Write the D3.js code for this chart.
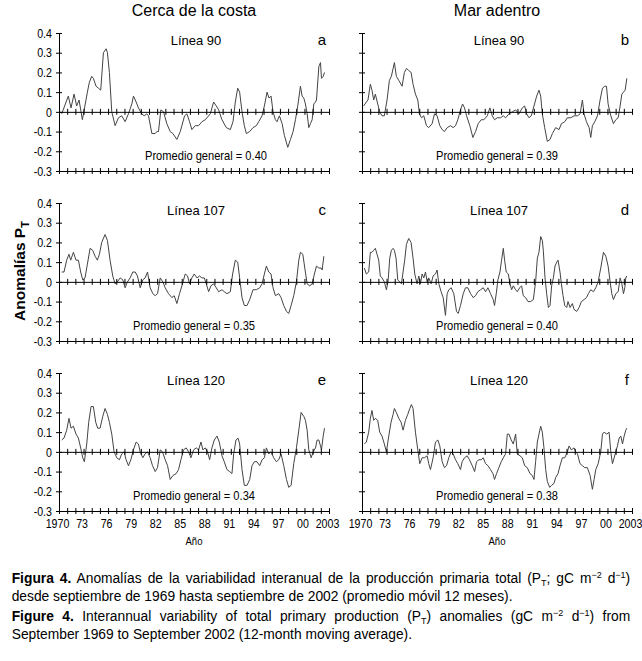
<!DOCTYPE html>
<html><head><meta charset="utf-8">
<script src="https://cdn.jsdelivr.net/npm/d3@7"></script>
<style>
body{margin:0;background:#fff;}
#wrap{position:relative;width:642px;height:661px;overflow:hidden;background:#fff;}
.cap{position:absolute;left:11.7px;width:618.5px;font-family:'Liberation Sans',Arial,sans-serif;font-size:13.8px;line-height:16px;color:#000;}
.j{text-align:justify;text-align-last:justify;}
.sup{font-size:9px;vertical-align:5px;line-height:0;}
.sub{font-size:9px;vertical-align:-3px;line-height:0;}
</style></head>
<body><div id="wrap"></div>
<script>
// ---------------- DATA ----------------
const columnTitles = ["Cerca de la costa", "Mar adentro"];
const yTicks = [-0.3, -0.2, -0.1, 0, 0.1, 0.2, 0.3, 0.4];
const yearTicks = d3.range(1970, 2004);
const yearLabels = [1970, 1973, 1976, 1979, 1982, 1985, 1988, 1991, 1994, 1997, 2000, 2003];

const linea90Costa = [[1970.33,-0.01],[1971.14,0.08],[1971.47,0.02],[1971.84,0.09],[1972.16,0.03],[1972.45,0.06],[1972.86,-0.04],[1973.47,0.10],[1973.71,0.15],[1974.00,0.18],[1974.20,0.17],[1974.53,0.13],[1974.82,0.12],[1975.10,0.11],[1975.43,0.30],[1975.76,0.32],[1975.92,0.30],[1976.16,0.20],[1976.45,0.00],[1976.86,-0.07],[1977.27,-0.03],[1977.67,-0.02],[1978.08,-0.05],[1978.49,-0.01],[1978.90,0.04],[1979.10,0.08],[1979.43,0.05],[1979.71,0.02],[1980.12,-0.01],[1980.41,-0.02],[1980.73,-0.01],[1980.94,-0.02],[1981.35,-0.11],[1981.76,-0.11],[1981.96,-0.10],[1982.16,-0.10],[1982.45,0.01],[1982.78,0.00],[1982.98,-0.03],[1983.18,-0.06],[1983.59,-0.10],[1983.92,-0.11],[1984.41,-0.14],[1984.82,-0.10],[1985.35,-0.02],[1985.63,-0.01],[1985.96,-0.05],[1986.24,-0.09],[1986.65,-0.07],[1987.06,-0.07],[1987.47,-0.05],[1987.88,-0.04],[1988.08,-0.03],[1988.49,-0.01],[1988.90,0.05],[1989.22,0.03],[1989.51,0.01],[1989.92,-0.04],[1990.45,-0.08],[1990.94,-0.09],[1991.27,-0.05],[1991.55,0.05],[1991.84,0.12],[1992.08,0.10],[1992.37,0.00],[1992.65,-0.07],[1992.90,-0.11],[1993.31,-0.10],[1993.71,-0.08],[1994.12,-0.07],[1994.41,-0.05],[1994.82,-0.02],[1995.10,0.03],[1995.43,0.10],[1995.67,0.07],[1995.92,0.08],[1996.16,0.00],[1996.45,-0.04],[1996.65,-0.05],[1996.94,-0.02],[1997.27,-0.06],[1997.55,-0.12],[1997.96,-0.18],[1998.29,-0.14],[1998.61,-0.10],[1998.90,-0.04],[1999.18,0.03],[1999.51,0.13],[1999.71,0.08],[1999.92,0.07],[2000.12,0.04],[2000.33,-0.01],[2000.53,-0.08],[2000.73,-0.06],[2000.94,-0.04],[2001.14,0.04],[2001.35,0.05],[2001.47,0.06],[2001.76,0.23],[2001.96,0.25],[2002.08,0.17],[2002.29,0.18],[2002.45,0.20]];

const linea90Mar = [[1970.20,0.03],[1970.53,0.05],[1970.73,0.06],[1971.02,0.14],[1971.22,0.11],[1971.43,0.06],[1971.63,0.09],[1971.92,0.04],[1972.16,0.00],[1972.45,-0.02],[1972.73,-0.02],[1973.06,0.06],[1973.35,0.16],[1973.59,0.18],[1973.96,0.25],[1974.20,0.18],[1974.49,0.16],[1974.90,0.13],[1975.18,0.20],[1975.43,0.22],[1975.71,0.21],[1976.00,0.20],[1976.24,0.14],[1976.53,0.09],[1976.82,0.06],[1977.02,-0.01],[1977.27,-0.03],[1977.55,-0.02],[1977.88,-0.07],[1978.16,-0.08],[1978.57,-0.06],[1978.86,-0.01],[1979.18,-0.02],[1979.51,-0.07],[1979.80,-0.09],[1980.08,-0.10],[1980.41,-0.08],[1980.82,-0.07],[1981.14,-0.08],[1981.43,-0.07],[1981.71,-0.04],[1982.04,0.01],[1982.29,0.04],[1982.53,0.02],[1982.78,-0.02],[1983.18,-0.07],[1983.55,-0.13],[1983.88,-0.10],[1984.20,-0.06],[1984.57,-0.04],[1984.90,-0.04],[1985.31,-0.02],[1985.63,0.02],[1985.92,-0.02],[1986.20,-0.04],[1986.53,-0.03],[1986.94,-0.03],[1987.27,-0.02],[1987.55,-0.03],[1987.96,-0.01],[1988.37,0.00],[1988.78,0.01],[1989.18,-0.01],[1989.59,0.02],[1989.88,0.03],[1990.12,-0.01],[1990.41,-0.03],[1990.69,-0.02],[1991.02,0.03],[1991.35,0.08],[1991.63,0.11],[1991.84,0.08],[1992.04,-0.01],[1992.33,-0.08],[1992.65,-0.15],[1992.98,-0.14],[1993.27,-0.11],[1993.67,-0.08],[1994.08,-0.09],[1994.37,-0.06],[1994.78,-0.05],[1995.10,-0.03],[1995.51,-0.03],[1995.92,-0.02],[1996.33,-0.02],[1996.65,-0.01],[1996.94,0.06],[1997.14,-0.01],[1997.43,-0.05],[1997.76,-0.08],[1997.96,-0.13],[1998.16,-0.07],[1998.45,-0.05],[1998.78,-0.02],[1999.10,0.06],[1999.39,0.12],[1999.67,0.13],[1999.88,0.13],[2000.08,0.04],[2000.41,-0.02],[2000.73,-0.06],[2001.02,-0.04],[2001.31,-0.03],[2001.55,0.03],[2001.76,0.09],[2001.96,0.10],[2002.16,0.11],[2002.37,0.17]];

const linea107Costa = [[1970.33,0.05],[1970.61,0.05],[1970.94,0.11],[1971.22,0.14],[1971.43,0.11],[1971.76,0.15],[1972.08,0.11],[1972.37,0.11],[1972.65,0.05],[1972.90,0.01],[1973.18,0.02],[1973.47,0.09],[1973.80,0.17],[1974.12,0.16],[1974.41,0.13],[1974.69,0.11],[1974.94,0.14],[1975.22,0.20],[1975.63,0.24],[1975.92,0.21],[1976.24,0.11],[1976.57,0.03],[1976.86,-0.01],[1977.14,0.00],[1977.47,0.02],[1977.80,0.01],[1978.08,-0.03],[1978.37,0.00],[1978.69,0.02],[1979.02,0.05],[1979.31,0.05],[1979.59,0.03],[1979.92,-0.03],[1980.24,0.01],[1980.53,0.02],[1980.82,0.05],[1981.14,-0.03],[1981.47,-0.06],[1981.76,-0.07],[1982.04,-0.06],[1982.37,0.02],[1982.69,0.00],[1982.98,-0.03],[1983.39,-0.06],[1983.80,-0.08],[1984.08,-0.07],[1984.41,-0.11],[1984.73,-0.06],[1985.02,-0.02],[1985.43,0.04],[1985.71,0.03],[1985.96,-0.01],[1986.24,0.02],[1986.53,0.04],[1986.86,0.02],[1987.18,0.03],[1987.47,0.02],[1987.76,0.02],[1988.00,-0.01],[1988.29,-0.05],[1988.57,-0.02],[1988.90,-0.01],[1989.22,-0.03],[1989.51,-0.05],[1989.92,-0.04],[1990.20,-0.05],[1990.53,-0.06],[1990.94,-0.05],[1991.22,0.04],[1991.55,0.11],[1991.84,0.10],[1992.08,0.02],[1992.37,-0.08],[1992.65,-0.12],[1992.98,-0.12],[1993.31,-0.09],[1993.71,-0.04],[1994.12,-0.04],[1994.53,-0.03],[1994.82,-0.01],[1995.10,0.04],[1995.35,0.08],[1995.63,0.05],[1995.92,0.04],[1996.16,-0.03],[1996.45,-0.07],[1996.86,-0.06],[1997.14,-0.08],[1997.47,-0.12],[1997.80,-0.15],[1998.08,-0.16],[1998.37,-0.12],[1998.69,-0.07],[1999.02,0.00],[1999.31,0.11],[1999.51,0.15],[1999.80,0.14],[2000.04,0.07],[2000.33,-0.01],[2000.65,-0.02],[2000.94,-0.01],[2001.22,0.04],[2001.47,0.08],[2001.76,0.07],[2002.04,0.07],[2002.16,0.06],[2002.37,0.13]];

const linea107Mar = [[1970.29,0.07],[1970.53,0.04],[1970.82,0.05],[1971.02,0.15],[1971.22,0.15],[1971.43,0.16],[1971.63,0.17],[1971.84,0.14],[1972.04,0.11],[1972.24,0.03],[1972.45,0.02],[1972.73,0.00],[1972.98,-0.04],[1973.18,0.00],[1973.39,0.12],[1973.59,0.16],[1973.80,0.17],[1973.96,0.16],[1974.16,0.12],[1974.37,0.01],[1974.61,0.00],[1974.82,-0.01],[1975.02,0.05],[1975.22,0.11],[1975.43,0.19],[1975.71,0.22],[1976.00,0.20],[1976.24,0.12],[1976.45,0.04],[1976.73,-0.01],[1976.94,0.03],[1977.14,-0.01],[1977.35,0.04],[1977.55,0.02],[1977.76,0.05],[1977.96,0.00],[1978.16,0.02],[1978.45,-0.01],[1978.69,0.03],[1978.98,0.04],[1979.18,0.06],[1979.39,-0.01],[1979.67,-0.05],[1979.92,-0.08],[1980.20,-0.17],[1980.41,-0.06],[1980.61,-0.04],[1980.90,-0.03],[1981.22,-0.06],[1981.55,-0.15],[1981.76,-0.16],[1982.04,-0.12],[1982.37,-0.06],[1982.65,-0.03],[1982.94,-0.03],[1983.27,-0.06],[1983.59,-0.08],[1983.88,-0.07],[1984.16,-0.05],[1984.49,-0.04],[1984.82,-0.03],[1985.10,-0.05],[1985.39,-0.03],[1985.71,-0.06],[1986.04,-0.09],[1986.20,-0.12],[1986.41,-0.06],[1986.61,0.01],[1986.86,0.05],[1987.06,0.11],[1987.27,0.17],[1987.43,0.11],[1987.63,0.05],[1987.88,0.04],[1988.08,-0.01],[1988.29,-0.04],[1988.49,-0.02],[1988.78,-0.04],[1988.98,-0.05],[1989.27,-0.03],[1989.51,-0.02],[1989.71,-0.07],[1990.00,-0.08],[1990.29,-0.10],[1990.61,-0.10],[1990.94,-0.09],[1991.22,0.00],[1991.43,0.12],[1991.63,0.15],[1991.84,0.23],[1992.04,0.21],[1992.16,0.16],[1992.37,0.02],[1992.57,-0.06],[1992.78,-0.13],[1992.98,-0.12],[1993.18,-0.02],[1993.39,0.02],[1993.59,0.08],[1993.80,0.10],[1993.96,0.11],[1994.20,0.05],[1994.37,-0.01],[1994.57,-0.07],[1994.78,-0.12],[1995.02,-0.13],[1995.18,-0.10],[1995.43,-0.13],[1995.71,-0.11],[1995.92,-0.14],[1996.24,-0.15],[1996.53,-0.13],[1996.82,-0.10],[1997.14,-0.09],[1997.43,-0.08],[1997.67,-0.06],[1997.96,-0.04],[1998.29,-0.05],[1998.57,-0.03],[1998.86,0.00],[1999.18,0.07],[1999.51,0.15],[1999.80,0.13],[2000.08,0.08],[2000.33,0.00],[2000.53,-0.06],[2000.73,-0.09],[2001.02,-0.06],[2001.31,-0.05],[2001.55,0.02],[2001.76,-0.01],[2001.96,-0.06],[2002.12,-0.03],[2002.24,0.02],[2002.37,0.03]];

const linea120Costa = [[1970.33,0.06],[1970.61,0.07],[1970.94,0.11],[1971.22,0.17],[1971.47,0.12],[1971.76,0.13],[1972.08,0.09],[1972.37,0.07],[1972.65,0.02],[1972.90,-0.03],[1973.10,-0.05],[1973.39,0.04],[1973.63,0.15],[1973.92,0.23],[1974.20,0.23],[1974.49,0.15],[1974.73,0.12],[1975.02,0.12],[1975.35,0.18],[1975.63,0.22],[1975.92,0.19],[1976.16,0.15],[1976.45,0.09],[1976.73,0.00],[1977.06,-0.03],[1977.39,-0.04],[1977.67,-0.01],[1977.96,0.00],[1978.20,-0.04],[1978.49,-0.07],[1978.78,-0.04],[1979.10,0.01],[1979.43,0.05],[1979.71,0.04],[1979.92,0.00],[1980.24,-0.03],[1980.53,-0.01],[1980.82,0.00],[1981.14,-0.03],[1981.43,-0.07],[1981.76,-0.10],[1982.04,-0.08],[1982.37,0.01],[1982.65,0.00],[1982.98,-0.04],[1983.27,-0.07],[1983.59,-0.14],[1983.92,-0.12],[1984.33,-0.11],[1984.61,-0.09],[1984.90,-0.04],[1985.22,0.01],[1985.55,0.02],[1985.84,0.00],[1986.12,-0.03],[1986.45,0.01],[1986.78,0.02],[1987.06,0.01],[1987.35,0.05],[1987.59,0.01],[1987.88,0.02],[1988.16,0.00],[1988.41,-0.04],[1988.69,0.02],[1988.98,0.06],[1989.31,0.08],[1989.59,0.05],[1989.92,-0.02],[1990.20,-0.05],[1990.53,-0.09],[1990.86,-0.10],[1991.14,-0.11],[1991.35,-0.01],[1991.63,0.06],[1991.88,0.07],[1992.08,0.04],[1992.37,-0.09],[1992.65,-0.17],[1992.98,-0.17],[1993.31,-0.14],[1993.59,-0.07],[1993.88,-0.05],[1994.20,-0.05],[1994.53,-0.07],[1994.82,-0.04],[1995.10,-0.03],[1995.35,0.02],[1995.63,-0.01],[1995.92,0.00],[1996.24,-0.03],[1996.57,-0.05],[1996.86,-0.04],[1997.14,-0.01],[1997.47,-0.07],[1997.80,-0.14],[1998.08,-0.18],[1998.37,-0.17],[1998.69,-0.06],[1999.02,0.02],[1999.31,0.11],[1999.59,0.20],[1999.92,0.18],[2000.12,0.16],[2000.33,0.11],[2000.53,0.01],[2000.82,-0.03],[2001.06,0.00],[2001.35,0.02],[2001.55,0.06],[2001.76,0.06],[2001.96,0.03],[2002.08,0.01],[2002.29,0.08],[2002.45,0.12]];

const linea120Mar = [[1970.29,0.04],[1970.53,0.05],[1970.82,0.10],[1971.02,0.17],[1971.22,0.21],[1971.43,0.16],[1971.63,0.17],[1971.92,0.16],[1972.16,0.10],[1972.45,0.08],[1972.73,0.04],[1972.98,0.00],[1973.27,0.08],[1973.55,0.15],[1973.80,0.19],[1973.96,0.22],[1974.20,0.20],[1974.49,0.17],[1974.78,0.15],[1975.02,0.11],[1975.31,0.16],[1975.59,0.19],[1975.84,0.22],[1976.04,0.24],[1976.24,0.22],[1976.53,0.10],[1976.82,0.01],[1977.06,-0.06],[1977.35,-0.03],[1977.63,-0.03],[1977.96,-0.02],[1978.16,-0.06],[1978.37,-0.09],[1978.69,-0.03],[1978.98,0.05],[1979.27,0.06],[1979.51,0.03],[1979.80,-0.05],[1980.08,-0.08],[1980.33,-0.07],[1980.61,-0.03],[1980.90,0.00],[1981.14,-0.01],[1981.43,-0.04],[1981.71,-0.06],[1982.04,-0.09],[1982.24,-0.05],[1982.53,-0.03],[1982.86,-0.02],[1983.14,-0.04],[1983.47,-0.07],[1983.76,-0.10],[1984.00,-0.05],[1984.29,-0.04],[1984.57,-0.04],[1984.82,-0.03],[1985.10,-0.06],[1985.39,-0.07],[1985.71,-0.09],[1986.00,-0.11],[1986.20,-0.14],[1986.45,-0.11],[1986.73,-0.08],[1987.02,-0.05],[1987.27,-0.03],[1987.55,-0.01],[1987.76,0.09],[1987.96,0.09],[1988.24,0.06],[1988.49,0.04],[1988.78,0.09],[1988.98,-0.01],[1989.31,-0.02],[1989.59,-0.03],[1989.88,-0.07],[1990.20,-0.08],[1990.53,-0.11],[1990.82,-0.12],[1991.02,-0.14],[1991.22,-0.05],[1991.43,0.05],[1991.63,0.09],[1991.84,0.13],[1992.04,0.10],[1992.24,0.02],[1992.45,-0.09],[1992.65,-0.15],[1992.94,-0.18],[1993.18,-0.17],[1993.47,-0.16],[1993.67,-0.13],[1993.96,-0.11],[1994.20,-0.07],[1994.49,-0.03],[1994.78,-0.03],[1995.10,0.00],[1995.31,0.03],[1995.59,0.01],[1995.92,0.02],[1996.12,0.00],[1996.33,-0.01],[1996.65,-0.06],[1996.94,-0.07],[1997.22,-0.08],[1997.55,-0.08],[1997.88,-0.12],[1998.16,-0.19],[1998.37,-0.14],[1998.57,-0.09],[1998.86,-0.06],[1999.18,0.00],[1999.39,0.09],[1999.59,0.10],[1999.92,0.09],[2000.20,0.10],[2000.41,0.00],[2000.61,-0.06],[2000.82,-0.03],[2001.02,0.00],[2001.22,0.03],[2001.43,0.07],[2001.63,0.08],[2001.84,0.04],[2002.04,0.08],[2002.24,0.11],[2002.37,0.12]];

const panelLineas = ["Línea 90", "Línea 90", "Línea 107", "Línea 107", "Línea 120", "Línea 120"];
const panelLetters = ["a", "b", "c", "d", "e", "f"];
const promedios = ["0.40", "0.39", "0.35", "0.40", "0.34", "0.38"];
const panelSeries = [linea90Costa, linea90Mar, linea107Costa, linea107Mar, linea120Costa, linea120Mar];

// ---------------- LAYOUT ----------------
const REG = "'Liberation Sans',Arial,sans-serif";
const SQ = 0.82; // horizontal squeeze emulating a narrow face
const colX = [59, 362], rowY = [33, 203, 373];
const plotW = 270, plotH = 138;

const svg = d3.select("#wrap").append("svg")
  .attr("width", 642).attr("height", 661)
  .style("position", "absolute").style("left", "0px").style("top", "0px");

const x = d3.scaleLinear().domain([1970, 2003]).range([0, plotW]);
const y = d3.scaleLinear().domain([-0.3, 0.4]).range([plotH, 0]);

const yFmt = d => d === 0 ? "0" : (d < 0 ? "-" : "") + Math.abs(d).toFixed(1);
const xFmt = d => {
  if (!yearLabels.includes(d)) return "";
  if (d === 1970 || d === 2003) return String(d);
  return String(d % 100).padStart(2, "0");
};

// column titles
columnTitles.forEach((t, i) => {
  svg.append("text").attr("x", colX[i] + plotW / 2).attr("y", 16)
    .attr("text-anchor", "middle").attr("font-family", REG).attr("font-size", 16)
    .text(t);
});

// y axis title
const yt = svg.append("text")
  .attr("transform", "translate(25,271) rotate(-90)")
  .attr("text-anchor", "middle").attr("font-family", REG).attr("font-size", 15.5)
  .attr("font-weight", "bold");
yt.append("tspan").text("Anomalías P");
yt.append("tspan").attr("dy", 4).attr("font-size", 11).text("T");

const line = d3.line().x(d => x(d[0])).y(d => y(d[1]));

panelSeries.forEach((series, i) => {
  const col = i % 2, row = Math.floor(i / 2);
  const g = svg.append("g").attr("transform", `translate(${colX[col]},${rowY[row]})`);

  // data line
  g.append("path").datum(series).attr("d", line)
    .attr("fill", "none").attr("stroke", "#444").attr("stroke-width", 1);

  // y axis
  const ya = g.append("g").call(d3.axisLeft(y).tickValues(yTicks).tickSize(3).tickSizeOuter(0)
      .tickPadding(4).tickFormat(col === 0 ? yFmt : () => ""));
  ya.selectAll(".tick line").attr("x1", 3);
  ya.selectAll(".tick text").attr("transform", `scale(${SQ},1)`).attr("x", -7 / SQ);
  // zero line axis
  const za = g.append("g").attr("transform", `translate(0,${y(0)})`)
    .call(d3.axisBottom(x).tickValues(yearTicks).tickSize(3).tickSizeOuter(0).tickFormat(() => ""));
  za.selectAll(".tick line").attr("y1", -3);
  // bottom axis
  const ba = g.append("g").attr("transform", `translate(0,${y(-0.3)})`)
    .call(d3.axisBottom(x).tickValues(yearTicks).tickSize(3).tickSizeOuter(0).tickPadding(5)
      .tickFormat(row === 2 ? xFmt : () => ""));
  ba.selectAll(".tick line").attr("y1", -3);
  ba.selectAll(".tick text").attr("transform", `scale(${SQ},1)`).attr("x", -2 / SQ);

  [ya, za, ba].forEach(a => {
    a.attr("font-family", REG).attr("font-size", 13);
    a.selectAll("path,line").attr("stroke", "#000").attr("stroke-width", 1);
    a.selectAll("text").attr("fill", "#000");
  });

  // labels
  g.append("text").attr("x", plotW / 2 + 2).attr("y", 12)
    .attr("text-anchor", "middle").attr("font-family", REG).attr("font-size", 13)
    .text(panelLineas[i]);
  g.append("text").attr("x", plotW - 3).attr("y", 12)
    .attr("text-anchor", "end").attr("font-family", REG).attr("font-size", 15)
    .text(panelLetters[i]);
  const pcx = plotW / 2 + (i === 0 ? 12 : 0);
  g.append("text").attr("x", pcx - 61).attr("y", plotH - 11)
    .attr("font-family", REG).attr("font-size", 13)
    .attr("textLength", 122).attr("lengthAdjust", "spacingAndGlyphs")
    .text("Promedio general = " + promedios[i]);
  if (row === 2) {
    g.append("text").attr("x", plotW / 2 - 8.5).attr("y", plotH + 34)
      .attr("font-family", REG).attr("font-size", 11)
      .attr("textLength", 17).attr("lengthAdjust", "spacingAndGlyphs")
      .text("Año");
  }
});

// caption
const capLines = [
  {top: 571.2, cls: "cap j", html: '<b>Figura 4.</b> Anomalías de la variabilidad interanual de la producción primaria total (P<span class="sub">T</span>; gC m<span class="sup">−2</span> d<span class="sup">−1</span>)'},
  {top: 589.2, cls: "cap", html: 'desde septiembre de 1969 hasta septiembre de 2002 (promedio móvil 12 meses).'},
  {top: 609.2, cls: "cap j", html: '<b>Figure 4.</b> Interannual variability of total primary production (P<span class="sub">T</span>) anomalies (gC m<span class="sup">−2</span> d<span class="sup">−1</span>) from'},
  {top: 627.2, cls: "cap", html: 'September 1969 to September 2002 (12-month moving average).'}
];
d3.select("#wrap").selectAll("div.cap").data(capLines).enter().append("div")
  .attr("class", d => d.cls).style("top", d => d.top + "px").html(d => d.html);
</script>
</body></html>
